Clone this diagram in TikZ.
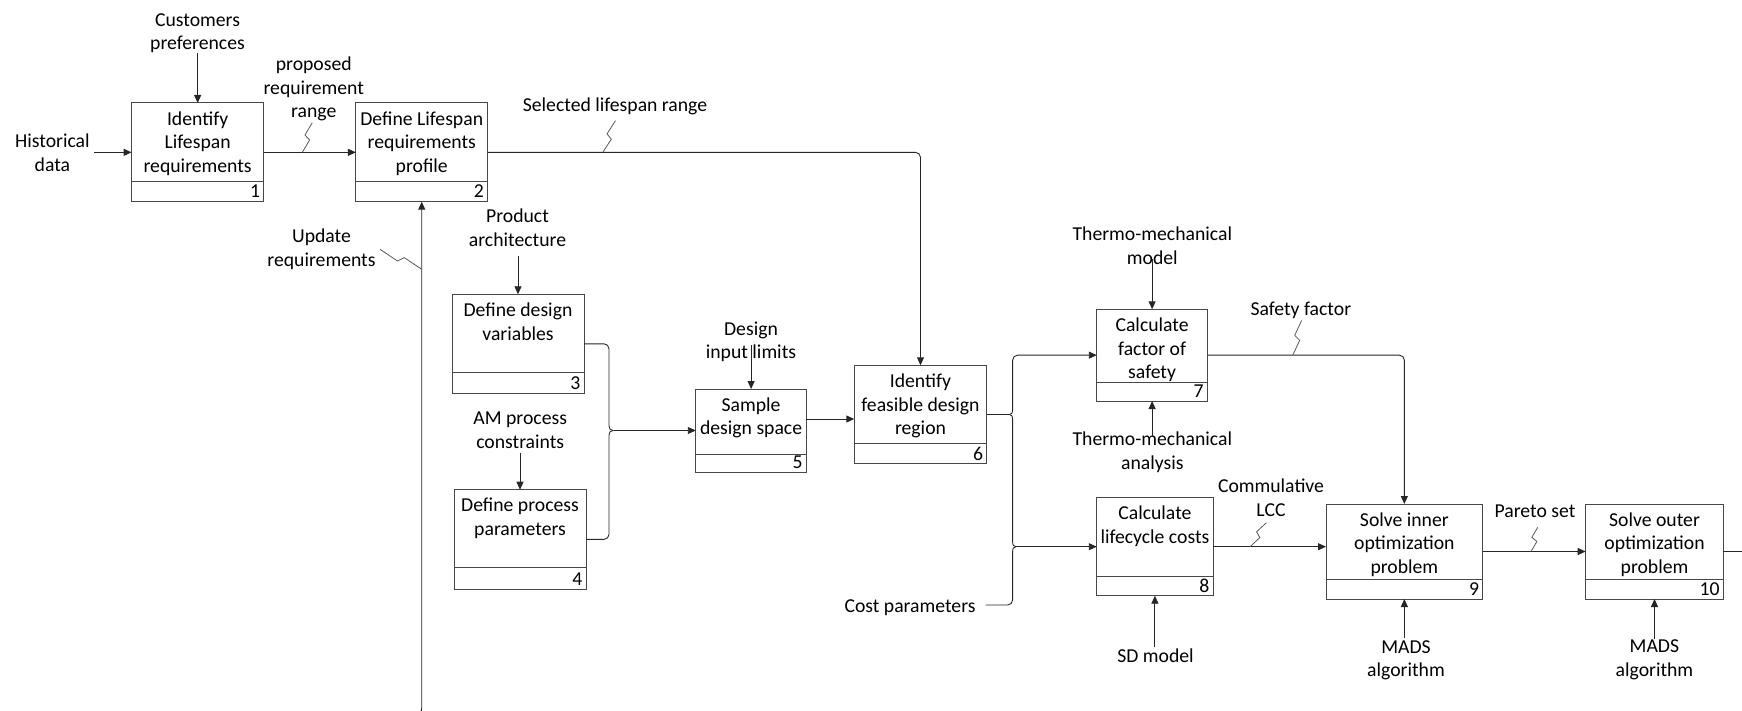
\documentclass[tikz,border=0pt]{standalone}
\usepackage{fontspec}
\setmainfont{Carlito}
\usetikzlibrary{arrows.meta,calc}
\newcommand\idefbox[8]{%
  \node[box, minimum width={(#4)-(#2)}, minimum height={(#5)-(#3)}] (#1) at ({((#2)+(#4))/2},{((#3)+(#5))/2}) {};
  \draw[box] ($(#1.south west)+(0,-#8)$) -- ($(#1.south east)+(0,-#8)$);
  \node[lbl, anchor=north] (#1t) at ($(#1.north)+(0,5.5)$) {\strut #6\strut};
  \node[anchor=base east, inner sep=0pt] (#1n) at ($(#1.south east)+(-3.5,-3.7)$) {#7};
}
\newcommand\zig[2]{\draw[zz] (#1) -- ($(#1)!0.45!(#2)!3pt!-90:(#2)$) -- ($(#1)!0.55!(#2)!3pt!90:(#2)$) -- (#2);}
\begin{document}
\begin{tikzpicture}[x=1pt,y=-1pt,
  font=\fontsize{19.7}{23.7}\selectfont,
  box/.style={draw=black!72, line width=1pt, inner sep=0pt, outer sep=0pt},
  lbl/.style={align=center, inner sep=0pt},
  con/.style={draw=black!85, line width=0.9pt},
  arr/.style={con, -{Triangle[length=8pt,width=7pt]}},
  zz/.style={draw=black!65, line width=0.8pt}
]
\useasboundingbox (0,0) rectangle (1742,711);
\clip (0,0) rectangle (1742,711);

% boxes
\idefbox{b1}{131.6}{103}{263.7}{201.7}{Identify\\Lifespan\\requirements}{1}{20}
\idefbox{b2}{355.9}{103}{487.6}{201.7}{Define Lifespan\\requirements\\profile}{2}{20}
\idefbox{b3}{452}{294.3}{584}{393.3}{Define design\\variables}{3}{21}
\idefbox{b4}{454}{489.7}{586}{589}{Define process\\parameters}{4}{21.3}
\idefbox{b5}{695.8}{389}{806.4}{472}{Sample\\design space}{5}{17.7}
\idefbox{b6}{854.3}{365.3}{986.7}{463.7}{Identify\\feasible design\\region}{6}{20}
\idefbox{b7}{1096.8}{309.3}{1207.4}{401}{Calculate\\factor of\\safety}{7}{19}
\idefbox{b8}{1096.8}{497.7}{1213}{595.7}{Calculate\\lifecycle costs}{8}{19}
\idefbox{b9}{1326}{504}{1482.7}{599}{Solve inner\\optimization\\problem}{9}{20}
\idefbox{b10}{1585.7}{504}{1723.3}{599}{Solve outer\\optimization\\problem}{10}{20}

% labels
\node[lbl] (hist) at (52.4,155) {\strut Historical\\data\strut};
\node[lbl] (cust) at (197.5,33.4) {\strut Customers\\preferences\strut};
\node[lbl] (prop) at (313.8,89.5) {\strut proposed\\requirement\\range\strut};
\node[lbl] (sel) at (615,107) {\strut Selected lifespan range\strut};
\node[lbl] (upd) at (321.5,250) {\strut Update\\requirements\strut};
\node[lbl] (parch) at (517.5,229.5) {\strut Product\\architecture\strut};
\node[lbl] (amp) at (520.2,432) {\strut AM process\\constraints\strut};
\node[lbl] (dil) at (751,342.4) {\strut Design\\input limits\strut};
\node[lbl] (costp) at (910,608) {\strut Cost parameters\strut};
\node[lbl] (tmm) at (1152.3,247.5) {\strut Thermo-mechanical\\model\strut};
\node[lbl] (tma) at (1152.3,452.5) {\strut Thermo-mechanical\\analysis\strut};
\node[lbl] (sf) at (1300.8,311) {\strut Safety factor\strut};
\node[lbl] (lcc) at (1271,500) {\strut Commulative\\LCC\strut};
\node[lbl] (sdm) at (1155.5,657.7) {\strut SD model\strut};
\node[lbl] (par) at (1535,512.3) {\strut Pareto set\strut};
\node[lbl] (mads1) at (1406,660.4) {\strut MADS\\algorithm\strut};
\node[lbl] (mads2) at (1654.4,659.5) {\strut MADS\\algorithm\strut};

% connectors, top row
\draw[arr] ($(b1.west -| hist.east)+(4,0)$) -- (b1.west);
\draw[arr] ($(b1.north |- cust.center)+(0,19.5)$) -- (b1.north);
\draw[arr] (b1.east) -- (b2.west);
\coordinate (z1s) at (302.3,152.35); \coordinate (z1e) at (312.3,122.7);
\zig{z1s}{z1e}
\draw[arr, rounded corners=5pt] (b2.east) -| (b6.north);
\coordinate (z2s) at (602.8,152.35); \coordinate (z2e) at (615.5,120.7);
\zig{z2s}{z2e}
\coordinate (u0) at (395,714);
\draw[arr, rounded corners=6pt] (u0) -| (b2.south);
\coordinate (z3s) at (421.75,269.3); \coordinate (z3e) at (380,249.3);
\zig{z3s}{z3e}

% left column
\draw[arr] ($(b3.north |- parch.center)+(0,26.5)$) -- (b3.north);
\draw[arr] ($(b4.north |- amp.center)+(0,21)$) -- (b4.north);
\coordinate (j1) at (613.5,430.5);
\draw[con, rounded corners=5pt] (b3.east) -- (609,343.8) -- (609,426);
\draw[con] (609,426) .. controls (609,429) and (610.5,430.5) .. (j1);
\draw[con, rounded corners=5pt] (b4.east) -- (609,539.35) -- (609,435);
\draw[con] (609,435) .. controls (609,432) and (610.5,430.5) .. (j1);
\draw[arr] (j1) -- (j1 -| b5.west);
\draw[arr] ($(b5.north |- dil.center)+(0,2.6)$) -- (b5.north);
\coordinate (o5) at ($(b5.east)+(0,-11.5)$);
\draw[arr] (o5) -- (o5 -| b6.west);

% right part
\coordinate (j2) at (1009.5,414.5);
\coordinate (j3) at (1016,546.7);
\coordinate (cpe) at ($(costp.east)+(10,-3)$);
\draw[con] (b6.east) -- (j2);
\draw[con] (j2) .. controls (1011.5,414.5) and (1012.6,413) .. (1012.6,409);
\draw[arr, rounded corners=5pt] (1012.6,409) |- (b7.west);
\draw[con] (j2) .. controls (1011.5,414.5) and (1012.6,416) .. (1012.6,420) -- (1012.6,541.5) .. controls (1012.6,545) and (1013.5,546.7) .. (j3);
\draw[con] (j3) .. controls (1013.5,546.7) and (1012.6,548.4) .. (1012.6,552);
\draw[con, rounded corners=5pt] (1012.6,552) |- (cpe);
\draw[arr] (j3) -- (j3 -| b8.west);

\draw[arr] ($(b7.north |- tmm.center)+(0,11.4)$) -- (b7.north);
\draw[arr] ($(b7.south |- tma.center)+(0,-15.5)$) -- (b7.south);
\draw[arr, rounded corners=5pt] (b7.east) -| (b9.north);
\coordinate (z4s) at (1292.8,355.15); \coordinate (z4e) at (1301.6,320.5);
\zig{z4s}{z4e}
\draw[arr] (b8.east) -- (b8.east -| b9.west);
\coordinate (z5s) at (1250,546.7); \coordinate (z5e) at (1266.4,522.7);
\zig{z5s}{z5e}
\draw[arr] ($(b8.south |- sdm.center)+(0,-11)$) -- (b8.south);
\draw[arr] (b9.east) -- (b10.west);
\coordinate (z6s) at (1531,551.5); \coordinate (z6e) at (1537.7,527.3);
\zig{z6s}{z6e}
\draw[arr] ($(b9.south |- mads1.center)+(0,-22)$) -- (b9.south);
\draw[arr] ($(b10.south |- mads2.center)+(0,-21)$) -- (b10.south);
\coordinate (out) at (1750,551.5);
\draw[con] (b10.east) -- (out);
\end{tikzpicture}
\end{document}
